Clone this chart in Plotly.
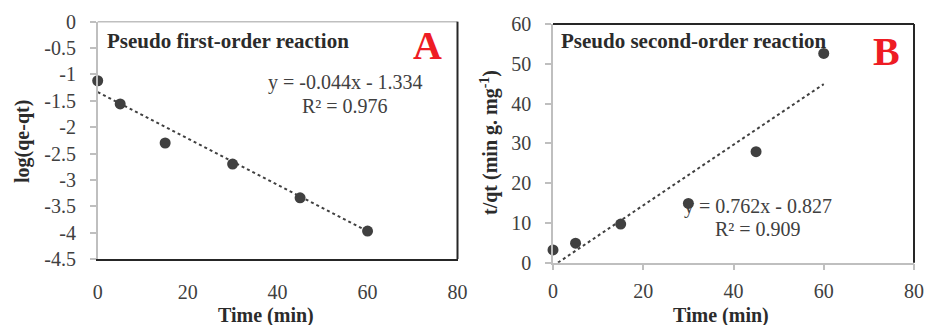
import plotly.graph_objects as go

W, H = 925, 325

# ---------------- data ----------------
time_a = [0, 5, 15, 30, 45, 60]
log_qe_qt = [-1.12, -1.56, -2.30, -2.70, -3.34, -3.97]
slope_a, intercept_a = -0.044, -1.334

time_b = [0, 5, 15, 30, 45, 60]
t_over_qt = [3.2, 4.9, 9.7, 14.9, 27.9, 52.6]
slope_b, intercept_b = 0.762, -0.827

fit_x = [0, 60]

x_ticks = [0, 20, 40, 60, 80]
x_tick_labels = ["0", "20", "40", "60", "80"]
ya_ticks = [0, -0.5, -1, -1.5, -2, -2.5, -3, -3.5, -4, -4.5]
ya_tick_labels = ["0", "-0.5", "-1", "-1.5", "-2", "-2.5", "-3", "-3.5", "-4", "-4.5"]
yb_ticks = [0, 10, 20, 30, 40, 50, 60]
yb_tick_labels = ["0", "10", "20", "30", "40", "50", "60"]

# ---------------- helpers ----------------
def px(x):
    return x / W

def py(y):
    return 1 - y / H

SERIF = "Liberation Serif"
TXT = "#404040"
GRAY = "#bfbfbf"
MARK = "#404040"

# panel pixel boxes
A_L, A_R, A_T, A_B = 97.7, 457.5, 21.7, 259.0
B_L, B_R, B_T, B_B = 553.0, 914.0, 24.0, 262.7

fig = go.Figure()

# Panel A
fig.add_trace(go.Scatter(x=fit_x, y=[slope_a * v + intercept_a for v in fit_x],
                         mode="lines", line=dict(color=MARK, width=2, dash="dot"),
                         xaxis="x", yaxis="y", showlegend=False, hoverinfo="skip"))
fig.add_trace(go.Scatter(x=time_a, y=log_qe_qt, mode="markers",
                         marker=dict(color=MARK, size=11), cliponaxis=False,
                         xaxis="x", yaxis="y", showlegend=False))
# Panel B
fig.add_trace(go.Scatter(x=fit_x, y=[slope_b * v + intercept_b for v in fit_x],
                         mode="lines", line=dict(color=MARK, width=2, dash="dot"),
                         xaxis="x2", yaxis="y2", showlegend=False, hoverinfo="skip"))
fig.add_trace(go.Scatter(x=time_b, y=t_over_qt, mode="markers",
                         marker=dict(color=MARK, size=11), cliponaxis=False,
                         xaxis="x2", yaxis="y2", showlegend=False))

tickfont = dict(family=SERIF, size=20, color=TXT)

fig.update_layout(
    width=W, height=H,
    margin=dict(l=0, r=0, t=0, b=0, autoexpand=False),
    paper_bgcolor="white", plot_bgcolor="white",
    xaxis=dict(domain=[px(A_L), px(A_R)], range=[0, 80], tickvals=x_ticks, ticktext=x_tick_labels,
               showgrid=False, zeroline=False, showline=True, linecolor="#262626", linewidth=2,
               ticks="", tickfont=tickfont, ticklabelstandoff=14, anchor="y",
               automargin=False, ticklabeloverflow="allow"),
    yaxis=dict(domain=[py(A_B), py(A_T)], range=[-4.5, 0], tickvals=ya_ticks, ticktext=ya_tick_labels,
               showgrid=False, zeroline=False, showline=True, linecolor=GRAY, linewidth=1.5,
               ticks="outside", ticklen=6, tickcolor=GRAY, tickwidth=1.5,
               tickfont=tickfont, ticklabelstandoff=10, anchor="x",
               automargin=False, ticklabeloverflow="allow"),
    xaxis2=dict(domain=[px(B_L), px(B_R)], range=[0, 80], tickvals=x_ticks, ticktext=x_tick_labels,
                showgrid=False, zeroline=False, showline=True, linecolor=GRAY, linewidth=1.5,
                ticks="outside", ticklen=6, tickcolor=GRAY, tickwidth=1.5,
                tickfont=tickfont, ticklabelstandoff=4, anchor="y2",
                automargin=False, ticklabeloverflow="allow"),
    yaxis2=dict(domain=[py(B_B), py(B_T)], range=[0, 60], tickvals=yb_ticks, ticktext=yb_tick_labels,
                showgrid=False, zeroline=False, showline=True, linecolor=GRAY, linewidth=1.5,
                ticks="outside", ticklen=6, tickcolor=GRAY, tickwidth=1.5,
                tickfont=tickfont, ticklabelstandoff=10, anchor="x2",
                automargin=False, ticklabeloverflow="allow"),
)

# frame lines (top / right)
shapes = [
    dict(type="line", xref="x domain", yref="y domain", x0=0, x1=1, y0=1, y1=1,
         line=dict(color=GRAY, width=1.5)),
    dict(type="line", xref="x domain", yref="y domain", x0=1, x1=1, y0=0, y1=1,
         line=dict(color="#262626", width=2)),
    dict(type="line", xref="x2 domain", yref="y2 domain", x0=0, x1=1, y0=1, y1=1,
         line=dict(color="#262626", width=2)),
    dict(type="line", xref="x2 domain", yref="y2 domain", x0=1, x1=1, y0=0, y1=1,
         line=dict(color="#262626", width=2)),
]
fig.update_layout(shapes=shapes)

def ann(text, x, y, size, color=TXT, bold=False, angle=0, xanchor="center"):
    t = f"<b>{text}</b>" if bold else text
    fig.add_annotation(text=t, x=px(x), y=py(y), xref="paper", yref="paper",
                       showarrow=False, xanchor=xanchor, yanchor="middle", textangle=angle,
                       font=dict(family=SERIF, size=size, color=color))

# panel titles
ann("Pseudo first-order reaction", 105, 41, 21, color="#2b2b2b", bold=True, xanchor="left")
ann("Pseudo second-order reaction", 559, 41, 21, color="#2b2b2b", bold=True, xanchor="left")
ann("A", 427, 46, 40, color="#ee1c24", bold=True)
ann("B", 886, 51, 40, color="#ee1c24", bold=True)

# equations
ann("y = -0.044x - 1.334", 345, 82, 20)
ann("R² = 0.976", 345, 106, 20)
ann("y = 0.762x - 0.827", 758, 206, 20)
ann("R² = 0.909", 758, 229, 20)

# axis titles
ann("Time (min)", 266, 315, 20, color="#2b2b2b", bold=True)
ann("Time (min)", 721, 315, 20, color="#2b2b2b", bold=True)
ann("log(qe-qt)", 22, 142, 20, color="#2b2b2b", bold=True, angle=-90)
ann("t/qt (min g. mg<sup>-1</sup>)", 490, 143, 20, color="#2b2b2b", bold=True, angle=-90)

fig.write_html("out.html", config={"displayModeBar": False},
               post_script="document.body.style.margin='0';")
